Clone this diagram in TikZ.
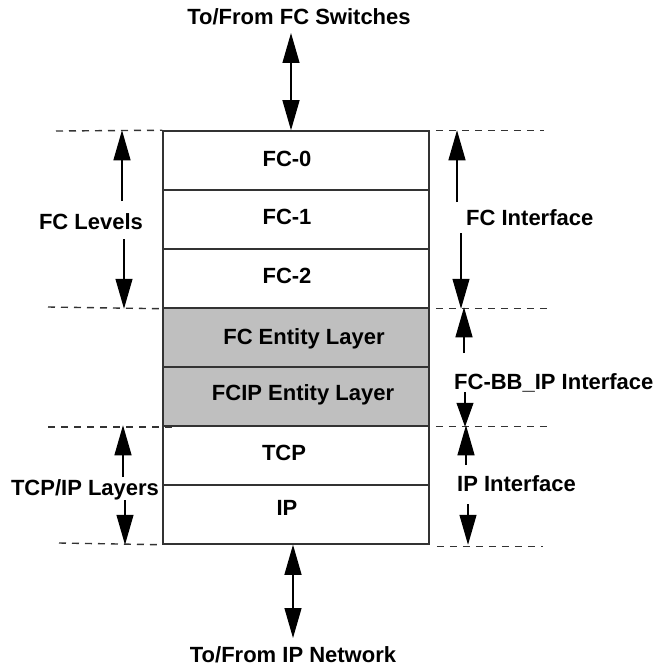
\documentclass[tikz,border=0pt]{standalone}
\usepackage{fontspec}
\setmainfont{Liberation Sans}
\usepackage{tikz}
\usetikzlibrary{arrows.meta}
\newcommand{\layercolor}{black!25}
\newcommand{\edgecolor}{black!80}
\newcommand{\headlen}{30pt}
\newcommand{\headwid}{17pt}

\tikzset{
layerbox/.style={draw=\edgecolor, line width=1.5pt, minimum width=266pt, minimum height=59pt, inner sep=0pt},
txt/.style={font=\fontsize{22}{24}\selectfont\bfseries, inner sep=0pt},
guide/.style={draw=\edgecolor, line width=1.4pt, dash pattern=on 7pt off 6pt},
dblarrow/.style={line width=1.2pt, {Triangle[length=\headlen,width=\headwid]}-{Triangle[length=\headlen,width=\headwid]}},
onearrow/.style={line width=1.2pt, -{Triangle[length=\headlen,width=\headwid]}}
}

\begin{document}
\begin{tikzpicture}[x=1pt,y=-1pt]
\useasboundingbox (0,0) rectangle (655,666);
%layers
\node[layerbox] (fc0) at (296,160.5) {};
\node[layerbox] (fc1) at (296,219.5) {};
\node[layerbox] (fc2) at (296,278.5) {};
\node[layerbox, fill=\layercolor] (fcent) at (296,337.5) {};
\node[layerbox, fill=\layercolor] (fcipent) at (296,396.5) {};
\node[layerbox] (tcp) at (296,455.5) {};
\node[layerbox] (ip) at (296,514.5) {};
\node[txt, anchor=base] (fc0t) at (287,166) {FC-0};
\node[txt, anchor=base] (fc1t) at (287,224) {FC-1};
\node[txt, anchor=base] (fc2t) at (287,283) {FC-2};
\node[txt, anchor=base] (fcentt) at (304,344) {FC Entity Layer};
\node[txt, anchor=base] (fcipentt) at (303,400) {FCIP Entity Layer};
\node[txt, anchor=base] (tcpt) at (284,460) {TCP};
\node[txt, anchor=base] (ipt) at (287,515) {IP};
%outside
\node[txt, anchor=base] (switches) at (299,25) {To/From FC Switches};
\node[txt, anchor=base] (network) at (293,662) {To/From IP Network};
\coordinate (swtop) at (291,33);
\coordinate (netbot) at (293,638);
\draw[dblarrow] (swtop) -- (swtop |- fc0.north);
\draw[dblarrow] (netbot |- ip.south) -- (netbot);
%left
\node[txt, anchor=base] (levels) at (91,229) {FC Levels};
\node[txt, anchor=base] (tcpip) at (85,495) {TCP/IP Layers};
\draw[guide] (56,131) -- (fc0.north west);
\draw[guide] (48,307) -- (fc2.south west);
\draw[guide] (48,427) -- (172,427);
\draw[guide] (59,543) -- (ip.south west);
\coordinate (lvup) at (122,201);
\coordinate (lvdn) at (124,239);
\coordinate (tiup) at (123,477);
\coordinate (tidn) at (125,500);
\draw[onearrow] (lvup) -- (lvup |- fc0.north);
\draw[onearrow] (lvdn) -- (lvdn |- fc2.south);
\draw[onearrow] (tiup) -- (tiup |- tcp.north);
\draw[onearrow] (tidn) -- (tidn |- ip.south);
%right
\node[txt, anchor=base west] (fcif) at (466,225) {FC Interface};
\node[txt, anchor=base west] (bbif) at (454,389) {FC-BB\_IP Interface};
\node[txt, anchor=base west] (ipif) at (457,491) {IP Interface};
\draw[guide] ([xshift=6pt]fc0.north east) -- ++(108,0);
\draw[guide] ([xshift=6pt]fc2.south east) -- ++(115,0);
\draw[guide] ([xshift=6pt]fcipent.south east) -- ++(113,0);
\draw[guide] ([xshift=7pt,yshift=-2pt]ip.south east) -- ++(106,0);
\coordinate (ifup) at (457,202);
\coordinate (ifdn) at (461,233);
\coordinate (bbup) at (464,353);
\coordinate (bbdn) at (465,392);
\coordinate (ipup) at (466,465);
\coordinate (ipdn) at (468,504);
\draw[onearrow] (ifup) -- (ifup |- fc0.north);
\draw[onearrow] (ifdn) -- (ifdn |- fc2.south);
\draw[onearrow] (bbup) -- (bbup |- fcent.north);
\draw[line width=1.2pt, -{Triangle[length=24pt,width=\headwid]}] (bbdn) -- (bbdn |- fcipent.south);
\draw[onearrow] (ipup) -- (ipup |- tcp.north);
\draw[onearrow] (ipdn) -- (ipdn |- ip.south);
\end{tikzpicture}
\end{document}
